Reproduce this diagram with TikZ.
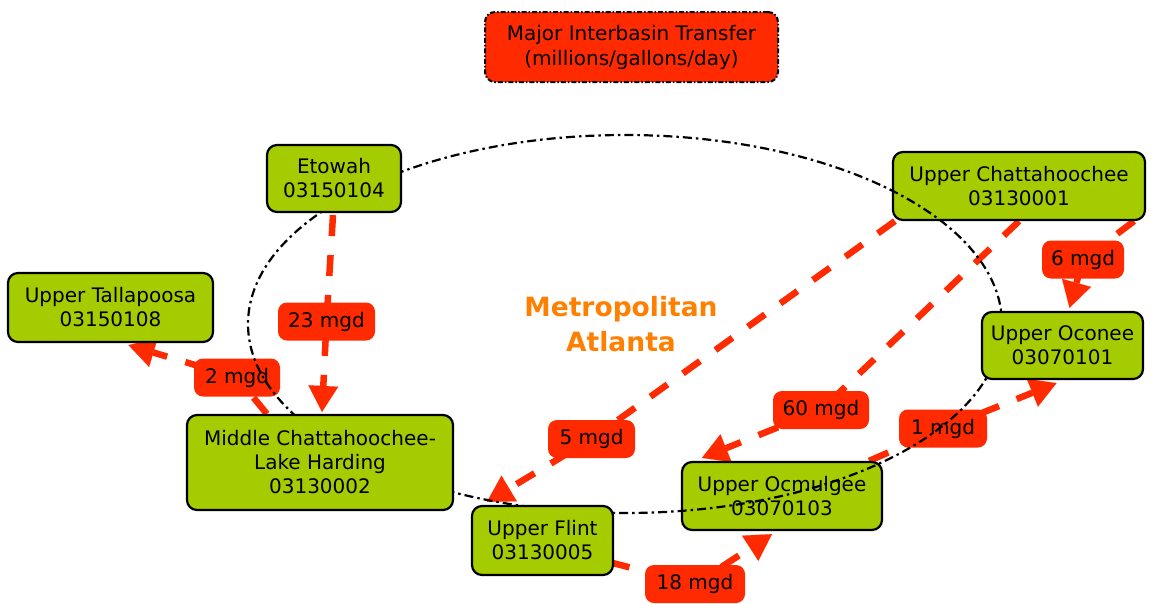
\documentclass[tikz,border=0pt]{standalone}
\usepackage{fontspec}
\setmainfont{DejaVu Sans}
\usetikzlibrary{arrows.meta,calc}
\definecolor{boxgreen}{RGB}{164,204,0}
\definecolor{lblred}{RGB}{255,42,0}
\definecolor{metro}{RGB}{255,128,0}
\pgfdeclarelayer{arrowlayer}
\pgfdeclarelayer{lowlayer}
\pgfdeclarelayer{ovallayer}
\pgfsetlayers{arrowlayer,lowlayer,ovallayer,main}
\tikzset{
  basin/.style={draw=black, line width=2.2pt, fill=boxgreen, rounded corners=10pt,
    align=center, font=\fontsize{20}{24}\selectfont, inner sep=0pt},
  flowlbl/.style={fill=lblred, rounded corners=9pt, font=\fontsize{20}{24}\selectfont,
    inner sep=0pt, minimum height=38pt},
  flow/.style={draw=lblred, line width=6.5pt, dash pattern=on 21pt off 19pt,
    -{Triangle[length=26pt,width=30pt,line width=0.1pt]}},
  oval/.style={draw=black, line width=2.2pt, dash pattern=on 9pt off 4pt on 2.5pt off 4pt},
}
\begin{document}
\begin{tikzpicture}[x=1pt,y=-1pt]
\useasboundingbox (0,0) rectangle (1155,603);

% boxes lying under the oval
\begin{pgfonlayer}{lowlayer}
\node[basin, minimum width=252pt, minimum height=68pt] (uc) at (1019,186) {Upper Chattahoochee\\03130001};
\node[basin, minimum width=200pt, minimum height=68pt] (ocmulgee) at (782,496) {Upper Ocmulgee\\03070103};
\node[flowlbl, minimum width=97pt] (lab23) at (326.5,321.5) {23 mgd};
\node[flowlbl, minimum width=86pt] (lab2) at (237,377.5) {2 mgd};
\node[flowlbl, minimum width=82pt] (lab6) at (1083,259.5) {6 mgd};
\node[flowlbl, minimum width=87pt] (lab5) at (591.5,439) {5 mgd};
\node[flowlbl, minimum width=96pt] (lab60) at (821,410) {60 mgd};
\node[flowlbl, minimum width=100pt] (lab18) at (695,584) {18 mgd};
\node[flowlbl, minimum width=88pt] (lab1) at (943,428.5) {1 mgd};
\end{pgfonlayer}

% oval of the metropolitan area
\begin{pgfonlayer}{ovallayer}
\draw[oval] (625,324) ellipse [x radius=377pt, y radius=189pt];
\end{pgfonlayer}

% boxes above the oval
\node[basin, minimum width=134pt, minimum height=67pt] (etowah) at (334,178.5) {Etowah\\03150104};
\node[basin, minimum width=205pt, minimum height=69pt] (tallapoosa) at (110.5,307.5) {Upper Tallapoosa\\03150108};
\node[basin, minimum width=161pt, minimum height=67pt] (oconee) at (1062.5,345.5) {Upper Oconee\\03070101};
\node[basin, minimum width=266pt, minimum height=95pt] (middle) at (320,462.5) {Middle Chattahoochee-\\Lake Harding\\03130002};
\node[basin, minimum width=141pt, minimum height=69pt] (flint) at (542.5,540.5) {Upper Flint\\03130005};

\node[draw=black, line width=2pt, dash pattern=on 5pt off 2pt on 1.5pt off 2pt,
  fill=lblred, rounded corners=10pt, minimum width=293pt, minimum height=70pt,
  align=center, inner sep=0pt, font=\fontsize{20}{25}\selectfont] (legend) at (631.5,47)
  {Major Interbasin Transfer\\(millions/gallons/day)};

\node[text=metro, font=\bfseries\fontsize{26.5}{35}\selectfont, align=center, inner sep=0pt]
  (metro) at (621,324.5) {Metropolitan\\Atlanta};

% transfers
\begin{pgfonlayer}{arrowlayer}
\draw[flow] ($(etowah.south)+(-1,2)$) -- (lab23.center) -- ($(middle.north)+(2,-2)$);
\draw[flow] ($(middle.north west)+(81,0)$) -- (lab2.center) -- ($(tallapoosa.south)+(18,2)$);
\draw[flow] ($(uc.south west)+(3,0)$) -- (lab5.center) -- ($(flint.north west)+(16,-3)$);
\draw[flow] (uc.south) -- (lab60.center) -- ($(ocmulgee.north west)+(21,-3)$);
\draw[flow] ($(uc.south east)+(-12,0)$) -- (lab6.center) -- ($(oconee.north)+(7,-3)$);
\draw[flow] ($(flint.south east)+(-5,-14)$) -- (lab18.center) -- ($(ocmulgee.south)+(-10,3)$);
\draw[flow] ($(ocmulgee.north east)+(-14,0)$) -- (lab1.center) -- ($(oconee.south)+(-6,3)$);
\end{pgfonlayer}
\end{tikzpicture}
\end{document}
